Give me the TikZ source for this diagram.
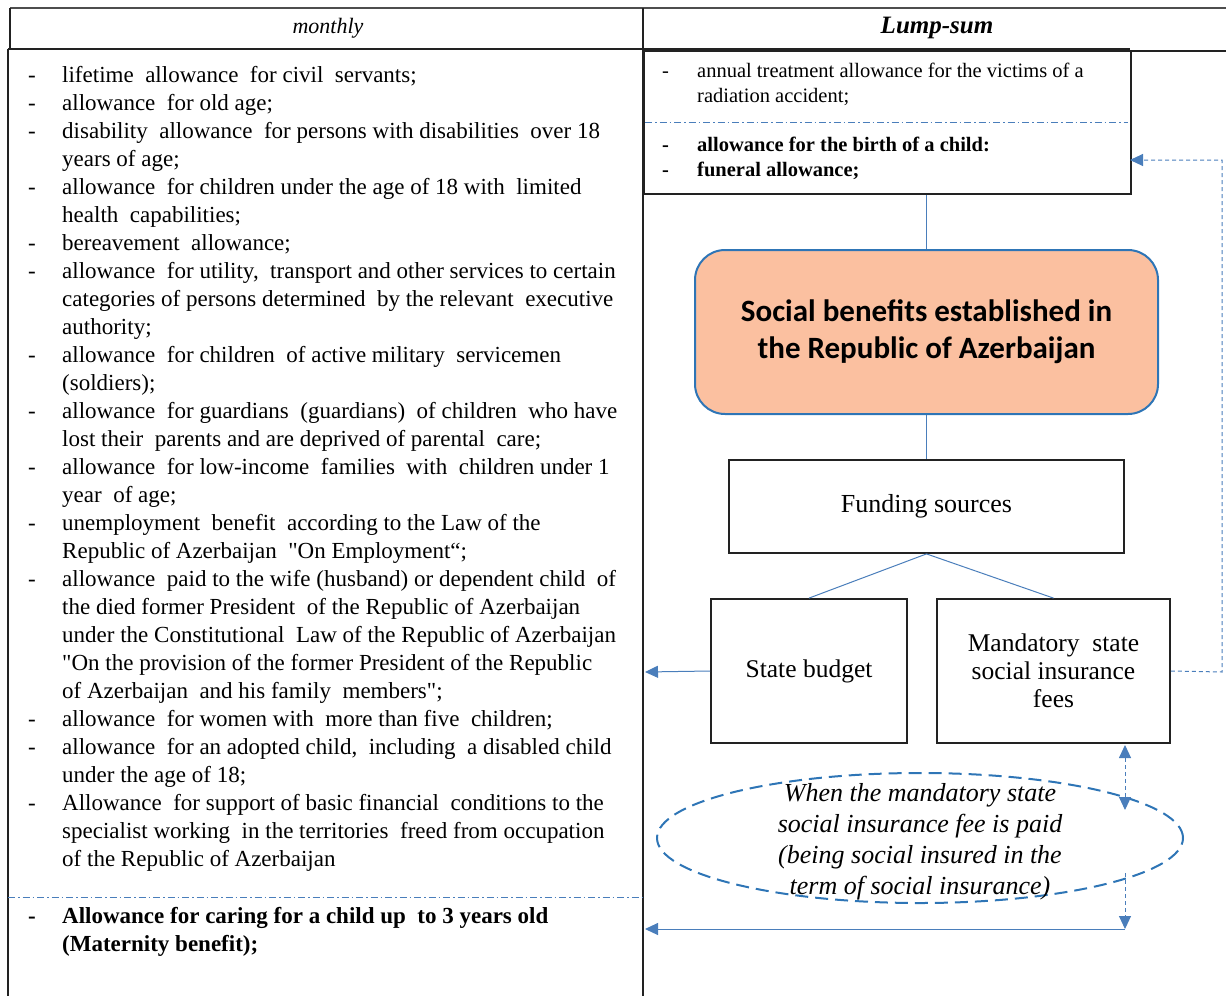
\documentclass[tikz,border=0pt]{standalone}
\usepackage{fontspec}
\setmainfont[Ligatures=TeXOff]{Liberation Serif}
\newfontfamily\titlefont{Carlito}
\usetikzlibrary{arrows.meta,shapes.geometric}
\definecolor{lnblue}{RGB}{74,126,187}
\definecolor{elblue}{RGB}{46,117,182}
\definecolor{salmon}{RGB}{251,192,160}
\definecolor{bord}{RGB}{34,34,34}
\tikzset{
  frame/.style={draw=bord, line width=1.8pt},
  boxnode/.style={draw=bord, line width=1.8pt, rectangle, inner sep=0pt},
  bline/.style={draw=lnblue, line width=1pt},
  dline/.style={draw=lnblue, line width=1pt, dash pattern=on 4pt off 3pt},
  ddline/.style={draw=lnblue, line width=0.8pt, dash pattern=on 7pt off 3pt on 1.5pt off 3pt},
  tip/.style={-{Triangle[width=12pt,length=13pt]}},
  lt/.style={anchor=base west, inner sep=0pt, font=\fontsize{23}{26}\selectfont},
  lb/.style={anchor=base west, inner sep=0pt, font=\fontsize{23}{26}\selectfont\bfseries},
  rt/.style={anchor=base west, inner sep=0pt, font=\fontsize{20.5}{23}\selectfont},
  rb/.style={anchor=base west, inner sep=0pt, font=\fontsize{20.5}{23}\selectfont\bfseries},
}
\begin{document}
\begin{tikzpicture}[x=1pt,y=-1pt]
\useasboundingbox (0,0) rectangle (1226,996);
% header
\draw[draw=bord!80, line width=1.2pt] (10,8) -- (1226,8);
\draw[frame] (10,8) -- (10,49);
\draw[frame] (643,8) -- (643,996);
\draw[draw=bord, line width=2.6pt] (8,49) -- (643,49);
\draw[draw=bord, line width=1.6pt] (1130,51) -- (1226,51);
\draw[frame] (8,49) -- (8,996);
\node[font=\fontsize{22}{26}\selectfont\itshape] (hm) at (328,28) {monthly};
\node[font=\fontsize{25}{28}\selectfont\bfseries\itshape] (hl) at (937,28) {Lump-sum};
% left column text
\foreach \d/\y in {1/82,2/110,3/138,5/194,7/250,8/278,11/362,13/418,15/474,17/530,19/586,24/726,25/754,27/810}
  \node[lt] at (28,\y) {-};
\node[lt] at (62,82) {lifetime\ \ allowance\ \ for civil\ \ servants;};
\node[lt] at (62,110) {allowance\ \ for old age;};
\node[lt] at (62,138) {disability\ \ allowance\ \ for persons with disabilities\ \ over 18};
\node[lt] at (62,166) {years of age;};
\node[lt] at (62,194) {allowance\ \ for children under the age of 18 with\ \ limited};
\node[lt] at (62,222) {health\ \ capabilities;};
\node[lt] at (62,250) {bereavement\ \ allowance;};
\node[lt] at (62,278) {allowance\ \ for utility,\ \ transport and other services to certain};
\node[lt] at (62,306) {categories of persons determined\ \ by the relevant\ \ executive};
\node[lt] at (62,334) {authority;};
\node[lt] at (62,362) {allowance\ \ for children\ \ of active military\ \ servicemen};
\node[lt] at (62,390) {(soldiers);};
\node[lt] at (62,418) {allowance\ \ for guardians\ \ (guardians)\ \ of children\ \ who have};
\node[lt] at (62,446) {lost their\ \ parents and are deprived of parental\ \ care;};
\node[lt] at (62,474) {allowance\ \ for low-income\ \ families\ \ with\ \ children under 1};
\node[lt] at (62,502) {year\ \ of age;};
\node[lt] at (62,530) {unemployment\ \ benefit\ \ according to the Law of the};
\node[lt] at (62,558) {Republic of Azerbaijan\ \ "On Employment“;};
\node[lt] at (62,586) {allowance\ \ paid to the wife (husband) or dependent child\ \ of};
\node[lt] at (62,614) {the died former President\ \ of the Republic of Azerbaijan};
\node[lt] at (62,642) {under the Constitutional\ \ Law of the Republic of Azerbaijan};
\node[lt] at (62,670) {"On the provision of the former President of the Republic};
\node[lt] at (62,698) {of Azerbaijan\ \ and his family\ \ members";};
\node[lt] at (62,726) {allowance\ \ for women with\ \ more than five\ \ children;};
\node[lt] at (62,754) {allowance\ \ for an adopted child,\ \ including\ \ a disabled child};
\node[lt] at (62,782) {under the age of 18;};
\node[lt] at (62,810) {Allowance\ \ for support of basic financial\ \ conditions to the};
\node[lt] at (62,838) {specialist working\ \ in the territories\ \ freed from occupation};
\node[lt] at (62,866) {of the Republic of Azerbaijan};
\draw[ddline] (8,897) -- (643,897);
\node[lb] at (28,923) {-};
\node[lb] at (62,923) {Allowance for caring for a child up\ \ to 3 years old};
\node[lb] at (62,951) {(Maternity benefit);};
% top right box
\node[boxnode, minimum width=487pt, minimum height=143pt, anchor=north west] (lump) at (643,50) {};
\draw[draw=bord, line width=2.6pt] (643,49.5) -- (1130,49.5);
\node[rt] at (662,77) {-};
\node[rt] at (697,77) {annual\ treatment allowance for the victims of a};
\node[rt] at (697,102) {radiation accident;};
\draw[ddline] (645,122) -- (1128,122);
\node[rb] at (662,151) {-};
\node[rb] at (697,151) {allowance for the birth of a child:};
\node[rb] at (662,176) {-};
\node[rb] at (697,176) {funeral allowance;};
\coordinate (lumpin) at (1130,160);
% title
\node[draw=elblue, line width=2pt, fill=salmon, rounded corners=30pt, minimum width=463pt, minimum height=164pt, align=center, font=\titlefont\fontsize{31}{37}\selectfont\bfseries] (title) at (926.5,332) {Social benefits established in\\the Republic of Azerbaijan};
\node[boxnode, minimum width=395pt, minimum height=93pt, font=\fontsize{26}{30}\selectfont] (fund) at (926.5,506.5) {Funding sources};
\node[boxnode, minimum width=196pt, minimum height=144pt, font=\fontsize{25.5}{28}\selectfont] (sb) at (809,671) {State budget};
\node[boxnode, minimum width=233pt, minimum height=144pt, align=center, font=\fontsize{25.5}{28}\selectfont] (ms) at (1053.5,671) {Mandatory\ \ state\\social insurance\\fees};
\draw[bline] (title.north |- lump.south) -- (title.north);
\draw[bline] (title.south) -- (fund.north);
\draw[bline] (fund.south) -- (sb.north);
\draw[bline] (fund.south) -- (ms.north);
\coordinate (lsb) at (645,672);
\draw[bline, tip] (sb.west) -- (lsb);
\draw[dline, tip] (ms.east) -- (1222,672) |- (lumpin);
% ellipse
\node[ellipse, draw=elblue, line width=2pt, dash pattern=on 13pt off 7pt, minimum width=526pt, minimum height=130pt] (ell) at (920,838) {};
\node[align=center, font=\fontsize{26}{31}\selectfont\itshape] (elltext) at (920,841.5) {When the mandatory state\\social insurance fee is paid\\(being social insured in the\\term of social insurance)};
\coordinate (va) at (1125,745);
\coordinate (vb) at (1125,810);
\coordinate (vc) at (1125,873);
\coordinate (vd) at (1125,929);
\coordinate (lmat) at (645,929);
\draw[dline, {Triangle[width=12pt,length=13pt]}-{Triangle[width=12pt,length=13pt]}] (va) -- (vb);
\draw[dline, tip] (vc) -- (vd);
\draw[bline, tip] (vd) -- (lmat);
\end{tikzpicture}
\end{document}
